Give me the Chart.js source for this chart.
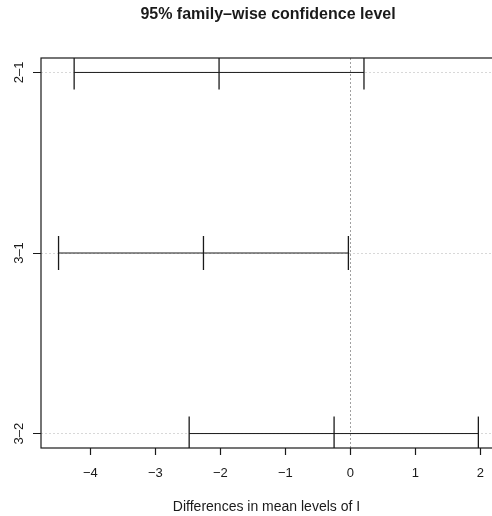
<!DOCTYPE html>
<html lang="en">
<head>
<meta charset="UTF-8">
<title>Tukey HSD</title>
<script src="https://cdn.jsdelivr.net/npm/chart.js@4/dist/chart.umd.min.js"></script>
<style>
  html, body { margin: 0; padding: 0; background: #fff; }
  #wrap { width: 492px; height: 516px; }
</style>
</head>
<body>
<div id="wrap"><canvas id="tukey" width="492" height="516"></canvas></div>
<script>
// comparisons, top to bottom
const comparisons = ['2–1', '3–1', '3–2'];
const diffs = [-2.02, -2.26, -0.25];
const lowers = [-4.25, -4.49, -2.48];
const uppers = [0.21, -0.03, 1.97];
const xTicks = [-4, -3, -2, -1, 0, 1, 2];

const ink = '#1a1a1a';
const fontFamily = '"Liberation Sans", Arial, Helvetica, sans-serif';

// y value for each comparison (first one on top)
const yVals = comparisons.map((c, i) => comparisons.length - i);

const datasets = [];
comparisons.forEach((c, i) => {
    datasets.push({
        data: [{x: lowers[i], y: yVals[i]}, {x: uppers[i], y: yVals[i]}],
        showLine: true,
        borderColor: ink,
        borderWidth: 1,
        pointRadius: 0
    });
});
let marks = [];
comparisons.forEach((c, i) => {
    marks.push({x: lowers[i], y: yVals[i]});
    marks.push({x: diffs[i], y: yVals[i]});
    marks.push({x: uppers[i], y: yVals[i]});
});
datasets.push({
    data: marks,
    pointStyle: 'line',
    rotation: 90,
    pointRadius: 17,
    borderColor: ink,
    borderWidth: 1.3
});

// box round the plot region, title centred over the plot like R does
const boxPlugin = {
    id: 'box',
    afterLayout(chart) {
        if (chart.titleBlock) chart.titleBlock.left += 44;
    },
    afterDatasetsDraw(chart) {
        const a = chart.chartArea;
        const ctx = chart.ctx;
        ctx.save();
        ctx.strokeStyle = ink;
        ctx.lineWidth = 1.2;
        ctx.strokeRect(a.left, a.top, a.right - a.left + 20, a.bottom - a.top);
        ctx.restore();
    }
};

function noPadding(scale) {
    scale.paddingLeft = 0;
    scale.paddingRight = 0;
    scale.paddingTop = 0;
    scale.paddingBottom = 0;
}

new Chart(document.getElementById('tukey'), {
    type: 'scatter',
    data: { datasets: datasets },
    options: {
        responsive: false,
        animation: false,
        layout: { padding: 0, autoPadding: false },
        plugins: {
            legend: { display: false },
            tooltip: { enabled: false },
            title: {
                display: true,
                text: '95% family–wise confidence level',
                color: ink,
                font: { family: fontFamily, size: 16, weight: 'bold' },
                padding: { top: 5.4, bottom: 33.4 }
            }
        },
        scales: {
            x: {
                type: 'linear',
                min: -4.76,
                max: 2.18,
                afterBuildTicks: (scale) => { scale.ticks = xTicks.map(v => ({value: v})); },
                afterFit: (scale) => { scale.height = 68; noPadding(scale); },
                grid: {
                    color: (ctx) => ctx.tick && ctx.tick.value === 0 ? '#888' : 'rgba(0,0,0,0)',
                    lineWidth: 0.8,
                    tickColor: ink,
                    tickLength: 7,
                    tickWidth: 1.2
                },
                border: { display: false, dash: [2, 2] },
                ticks: {
                    color: ink,
                    padding: 11,
                    font: { family: fontFamily, size: 13 },
                    callback: (v) => String(v).replace('-', '−')
                },
                title: {
                    display: true,
                    text: 'Differences in mean levels of I',
                    color: ink,
                    font: { family: fontFamily, size: 14 },
                    padding: { top: 0, bottom: 0 }
                }
            },
            y: {
                type: 'linear',
                min: 0.92,
                max: 3.08,
                afterBuildTicks: (scale) => { scale.ticks = yVals.map(v => ({value: v})); },
                afterFit: (scale) => { scale.width = 41; noPadding(scale); },
                grid: {
                    color: '#cfcfcf',
                    lineWidth: 0.8,
                    tickColor: ink,
                    tickLength: 8,
                    tickWidth: 1
                },
                border: { display: false, dash: [2, 2] },
                ticks: {
                    color: ink,
                    padding: 3,
                    minRotation: 90,
                    maxRotation: 90,
                    crossAlign: 'center',
                    font: { family: fontFamily, size: 13 },
                    callback: (v) => comparisons[comparisons.length - v]
                }
            }
        }
    },
    plugins: [boxPlugin]
});
</script>
</body>
</html>
